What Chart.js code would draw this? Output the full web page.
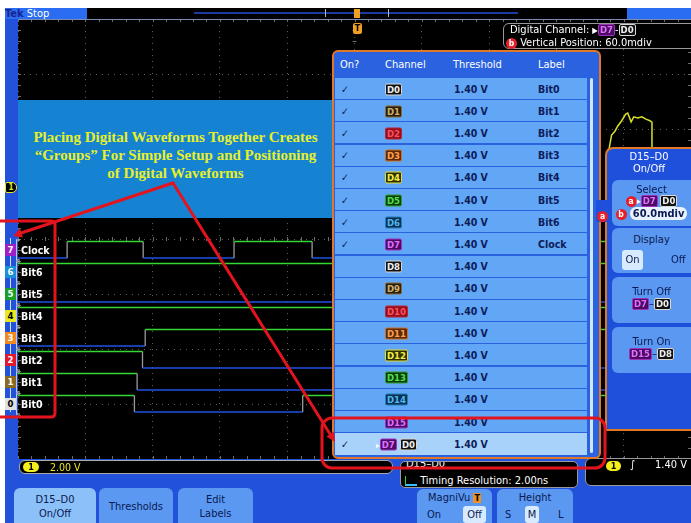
<!DOCTYPE html>
<html>
<head>
<meta charset="utf-8">
<script src="https://cdn.jsdelivr.net/npm/chart.js@4.4.1/dist/chart.umd.min.js"></script>
<style>
html, body { margin: 0; padding: 0; }
body { width: 691px; height: 523px; position: relative; overflow: hidden; background: #fff;
       font-family: 'DejaVu Sans Condensed', 'DejaVu Sans', sans-serif; }
.abs { position: absolute; }
#frame { left: 5px; top: 8px; width: 686px; height: 515px; background: #2152d9; }
#scope { left: 18px; top: 19px; width: 673px; height: 440px; background: #000; }
.badge { display: inline-block; font-size: 9.5px; font-weight: bold; line-height: 10px; padding: 0 1px;
         border: 1px solid; border-radius: 2px; vertical-align: middle; }
.rc { display: inline-block; width: 11px; height: 11px; border-radius: 50%; background: #e4202a; color: #fff;
      font-size: 8.5px; font-weight: bold; line-height: 11px; text-align: center; vertical-align: middle; }
.row { position: absolute; left: 335px; width: 252px; height: 21px; background: #62a6f6; color: #0c1c58;
       font-size: 10.5px; font-weight: bold; }
.row > span { position: absolute; top: 50%; transform: translateY(-50%); white-space: nowrap; }
.btn { position: absolute; background: #5a98f2; color: #0a1a50; font-size: 11px; text-align: center;
       border-radius: 6px; }
.pill { position: absolute; height: 10px; border-radius: 5px; background: #f2ee1a; color: #000;
        font-size: 9px; font-weight: bold; line-height: 10px; text-align: center; }
.lab { position: absolute; left: 21px; color: #fff; font-size: 10.5px; font-weight: bold; transform: translateY(-50%); }
.mk { position: absolute; left: 5px; width: 11px; height: 12px; font-size: 9.5px; font-weight: bold;
      line-height: 12px; text-align: center; transform: translateY(-50%); }
.brk { position: absolute; left: 16px; width: 3px; height: 19px; border: 1px solid #c8c8c8; border-right: none;
       transform: translateY(-50%); }
</style>
</head>
<body>
<div id="frame" class="abs"></div>

<!-- top status bar -->
<div class="abs" style="left:5px;top:8px;width:82px;height:11px;background:#2a6cf2;font-size:11px;line-height:11px;">
  <span style="color:#1a2290;font-weight:bold;">Tek</span><span style="color:#fff;"> Stop</span>
</div>
<div class="abs" style="left:87px;top:8px;width:540px;height:11px;background:#000;"></div>
<div class="abs" style="left:627px;top:8px;width:64px;height:11px;background:#2a6cf2;"></div>
<div class="abs" style="left:194px;top:12px;width:324px;height:2px;background:#1c3aa0;"></div>
<div class="abs" style="left:325px;top:9px;width:62px;height:8px;border-left:1px solid #bbb;border-right:1px solid #bbb;"></div>
<div class="abs" style="left:354px;top:9px;width:6px;height:9px;background:#f0a020;"></div>

<div id="scope" class="abs"><canvas id="wave"></canvas></div>
<div class="abs" style="left:18px;top:19px;width:673px;height:1px;background:#7c8cb0;"></div>

<!-- trigger marker -->
<div class="abs" style="left:353px;top:23px;width:9px;height:11px;background:#f0a020;border-radius:2px;color:#000;font-size:9px;font-weight:bold;line-height:11px;text-align:center;">T</div>

<!-- channel 1 ground marker -->
<div class="abs" style="left:5px;top:182px;width:10px;height:9px;background:#000;border:1px solid #e8e820;border-radius:2px 5px 5px 2px;color:#e8e820;font-size:8px;font-weight:bold;line-height:9px;text-align:center;">1</div>

<!-- readout top right -->
<div class="abs" style="left:503px;top:23px;width:192px;height:24px;background:#000;border:1px solid #999;border-radius:6px;color:#fff;font-size:11px;line-height:12px;">
  <div style="padding-left:6px;">Digital Channel: <span style="font-size:8px;">&#9654;</span><span id="hdrA"></span>-<span id="hdrB"></span></div>
  <div style="padding-left:2px;"><span class="rc">b</span> Vertical Position: 60.0mdiv</div>
</div>

<!-- annotation box -->
<div class="abs" style="left:18px;top:100px;width:315px;height:118px;background:#1583d2;"></div>
<div class="abs" style="left:18px;top:128px;width:315px;text-align:center;color:#e6f02a;font-family:'Liberation Serif',serif;font-weight:bold;font-size:15px;line-height:18px;">
  Placing Digital Waveforms Together Creates<br>&ldquo;Groups&rdquo; For Simple Setup and Positioning<br>of Digital Waveforms
</div>

<!-- channel labels / markers (filled by script) -->
<div id="lanes"></div>

<!-- status row -->
<div class="abs" style="left:19px;top:460px;width:372px;height:12px;background:#000;border:1px solid #aaa;border-radius:6px;"></div>
<div class="pill" style="left:23px;top:462px;width:16px;">1</div>
<div class="abs" style="left:50px;top:460px;color:#e8e820;font-size:10.5px;line-height:14px;">2.00 V</div>

<div class="abs" style="left:400px;top:461px;width:176px;height:25px;background:#000;border:1px solid #999;border-radius:5px;overflow:hidden;color:#fff;">
  <div style="position:absolute;left:5px;top:-5px;font-size:11px;">D15&ndash;D0</div>
  <div style="position:absolute;left:4px;top:13px;font-size:11px;line-height:12px;white-space:nowrap;">
    <span style="display:inline-block;width:11px;height:8px;border-bottom:2px solid #30c0ff;border-left:1px solid #30d030;vertical-align:middle;"></span>
    Timing Resolution: 2.00ns</div>
</div>

<div class="abs" style="left:585px;top:458px;width:110px;height:26px;background:#000;border:1px solid #999;border-radius:6px;"></div>
<div class="pill" style="left:606px;top:461px;width:15px;">1</div>
<div class="abs" style="left:630px;top:458px;color:#fff;font-size:11px;line-height:14px;font-style:italic;">&#8747;</div>
<div class="abs" style="left:655px;top:458px;color:#fff;font-size:11px;line-height:14px;">1.40 V</div>

<!-- channel table -->
<div id="tbl" class="abs" style="left:332px;top:50px;width:265px;height:405px;background:#2a62e0;border:2px solid #e07828;border-radius:6px;"></div>
<div class="abs" style="left:340px;top:58px;color:#fff;font-size:11px;">On?</div>
<div class="abs" style="left:385px;top:58px;color:#fff;font-size:11px;">Channel</div>
<div class="abs" style="left:453px;top:58px;color:#fff;font-size:11px;">Threshold</div>
<div class="abs" style="left:538px;top:58px;color:#fff;font-size:11px;">Label</div>
<div id="rows"></div>
<div class="abs" style="left:590px;top:78px;width:3px;height:375px;background:#cfe6ff;border-radius:2px;"></div>

<!-- side menu -->
<div class="abs" style="left:605px;top:147px;width:86px;height:280px;background:#1f50dc;border:2px solid #e07828;border-right:none;border-radius:8px 0 0 0;"></div>
<div class="abs" style="left:607px;top:151px;width:84px;text-align:center;color:#fff;font-size:11px;line-height:12px;">D15&ndash;D0<br>On/Off</div>
<div class="abs" style="left:596px;top:200px;width:14px;height:22px;background:#1f50dc;"></div>
<div class="abs" style="left:597px;top:206px;"><span class="rc">a</span></div>
<div class="btn" style="left:612px;top:180px;width:79px;height:46px;border-radius:6px 0 0 6px;line-height:11px;">
  <div style="margin-top:4px;">Select</div>
  <div style="font-size:9px;"><span class="rc">a</span><span style="color:#fff;">&#9656;</span><span id="selA"></span> <span id="selB"></span></div>
  <div style="margin-top:1px;"><span class="rc">b</span> <span style="background:#e8f2ff;border-radius:6px;padding:0 3px;font-weight:bold;">60.0mdiv</span></div>
</div>
<div class="btn" style="left:612px;top:228px;width:79px;height:45px;border-radius:6px 0 0 6px;">
  <div style="margin-top:5px;">Display</div>
  <div style="position:absolute;left:10px;top:22px;width:21px;height:20px;background:#d8eaff;border-radius:3px;line-height:20px;">On</div>
  <div style="position:absolute;left:59px;top:22px;line-height:20px;">Off</div>
</div>
<div class="btn" style="left:612px;top:277px;width:79px;height:46px;border-radius:6px 0 0 6px;line-height:12px;">
  <div style="margin-top:9px;">Turn Off</div>
  <div><span id="offA"></span>&ndash;<span id="offB"></span></div>
</div>
<div class="btn" style="left:612px;top:327px;width:79px;height:46px;border-radius:6px 0 0 6px;line-height:12px;">
  <div style="margin-top:9px;">Turn On</div>
  <div><span id="onA"></span>&ndash;<span id="onB"></span></div>
</div>

<!-- softkeys -->
<div class="btn" style="left:14px;top:488px;width:82px;height:45px;background:#8cc0f8;line-height:14px;"><div style="margin-top:5px;">D15&ndash;D0<br>On/Off</div></div>
<div class="btn" style="left:99px;top:488px;width:74px;height:45px;line-height:14px;"><div style="margin-top:12px;">Thresholds</div></div>
<div class="btn" style="left:178px;top:488px;width:75px;height:45px;line-height:14px;"><div style="margin-top:5px;">Edit<br>Labels</div></div>
<div class="btn" style="left:417px;top:489px;width:75px;height:45px;line-height:14px;">
  <div style="margin-top:2px;">MagniVu <span style="background:#f09020;color:#000;font-size:9px;font-weight:bold;padding:0 1px;">T</span></div>
  <div style="position:absolute;left:10px;top:19px;">On</div>
  <div style="position:absolute;left:46px;top:17px;width:23px;height:17px;background:#d8eaff;border-radius:3px;line-height:17px;">Off</div>
</div>
<div class="btn" style="left:497px;top:489px;width:76px;height:45px;line-height:14px;">
  <div style="margin-top:2px;">Height</div>
  <div style="position:absolute;left:8px;top:19px;">S</div>
  <div style="position:absolute;left:28px;top:17px;width:14px;height:17px;background:#d8eaff;border-radius:3px;line-height:17px;">M</div>
  <div style="position:absolute;left:61px;top:19px;">L</div>
</div>

<!-- red call-outs -->
<svg class="abs" style="left:0;top:0;" width="691" height="523">
  <g stroke="#e4141e" stroke-width="3" fill="none" stroke-linejoin="round" stroke-linecap="round">
    <path d="M-5 221 H51 Q55 221 55 225 V413 Q55 417 51 417 H-5"/>
    <line x1="173" y1="183" x2="21" y2="233"/>
    <line x1="173" y1="183" x2="330" y2="434"/>
    <rect x="322" y="418" width="283" height="50" rx="10"/>
  </g>
  <g fill="#e4141e">
    <polygon points="13,236 23,237.5 20,228.5"/>
    <polygon points="335,442 326.5,436.5 334,431.5"/>
  </g>
</svg>

<script>
// lane names, bottom lane first
const channelLabels = ['Bit0', 'Bit1', 'Bit2', 'Bit3', 'Bit4', 'Bit5', 'Bit6', 'Clock'];

// [time in divisions, logic level]
const bit0 = [[0, 1], [1.73, 0], [4.23, 1], [10, 1]];
const bit1 = [[0, 1], [1.77, 0], [10, 0]];
const bit2 = [[0, 1], [1.85, 0], [10, 0]];
const bit3 = [[0, 0], [1.89, 1], [10, 1]];
const bit4 = [[0, 1], [10, 1]];
const bit5 = [[0, 0], [10, 0]];
const bit6 = [[0, 1], [10, 1]];
const clock = [[0, 0], [0.73, 1], [1.86, 0], [3.21, 1], [4.37, 0], [5.69, 1], [6.85, 0], [8.17, 1], [9.33, 0], [10, 0]];
const laneEdges = [bit0, bit1, bit2, bit3, bit4, bit5, bit6, clock];

// analog channel 1, only the part that shows
const ch1Time  = [8.78, 8.82, 8.87, 8.91, 8.97, 9.03, 9.06, 9.11, 9.15, 9.21, 9.27, 9.33, 9.39, 9.42, 9.42];
const ch1Level = [5.62, 5.89, 5.96, 6.05, 6.15, 6.27, 6.29, 6.13, 6.22, 6.20, 6.22, 6.18, 6.15, 6.12, 5.40];

// channel table
const tableChannels = ['D0','D1','D2','D3','D4','D5','D6','D7','D8','D9','D10','D11','D12','D13','D14','D15'];
const tableOn = [1, 1, 1, 1, 1, 1, 1, 1, 0, 0, 0, 0, 0, 0, 0, 0];
const tableThresholds = ['1.40 V','1.40 V','1.40 V','1.40 V','1.40 V','1.40 V','1.40 V','1.40 V',
                         '1.40 V','1.40 V','1.40 V','1.40 V','1.40 V','1.40 V','1.40 V','1.40 V'];
const tableLabels = ['Bit0','Bit1','Bit2','Bit3','Bit4','Bit5','Bit6','Clock','','','','','','','',''];

// lane geometry in divisions
const laneBottom = 0.855, laneStep = 0.4, highOffset = 0.3;

// badge colours: bg, text, border (by channel mod 8)
const badgeColors = [
    ['#111111', '#f0f0f0', '#d8d8d8'],
    ['#2a1e0c', '#d0b070', '#8a6a30'],
    ['#90101c', '#ff5060', '#c02030'],
    ['#5a2a0a', '#ffa050', '#d07020'],
    ['#303008', '#f4f040', '#e0e030'],
    ['#0c3c0c', '#50e050', '#30a030'],
    ['#0c3050', '#50b8f0', '#2080c0'],
    ['#4a0c60', '#e070ff', '#a030c0']
];
const markerColors = ['#e0e0e0', '#8a6a20', '#e01830', '#f08a20', '#e8e820', '#18a028', '#1890d8', '#a020c8'];

function badge(name) {
    const n = parseInt(name.slice(1)) % 8;
    const c = badgeColors[n];
    return `<span class="badge" style="background:${c[0]};color:${c[1]};border-color:${c[2]};">${name}</span>`;
}

// header / menu badges
document.getElementById('hdrA').innerHTML = badge('D7');
document.getElementById('hdrB').innerHTML = badge('D0');
document.getElementById('selA').innerHTML = badge('D7');
document.getElementById('selB').innerHTML = badge('D0');
document.getElementById('offA').innerHTML = badge('D7');
document.getElementById('offB').innerHTML = badge('D0');
document.getElementById('onA').innerHTML = badge('D15');
document.getElementById('onB').innerHTML = badge('D8');

// table rows
const rowsDiv = document.getElementById('rows');
let html = '';
tableChannels.forEach((ch, i) => {
    const top = 78 + i * 22.2;
    html += `<div class="row" style="top:${top}px;">` +
        (tableOn[i] ? '<span style="left:6px;font-weight:normal;">&#10003;</span>' : '') +
        `<span style="left:50px;">${badge(ch)}</span>` +
        `<span style="left:119px;">${tableThresholds[i]}</span>` +
        `<span style="left:203px;">${tableLabels[i]}</span></div>`;
});
// group row (selected)
html += `<div class="row" style="top:433px;height:22px;background:#a8d2fa;">` +
    '<span style="left:6px;font-weight:normal;">&#10003;</span>' +
    `<span style="left:41px;"><span style="font-size:8px;color:#fff;">&#9656;</span>${badge('D7')} ${badge('D0')}</span>` +
    `<span style="left:119px;">1.40 V</span></div>`;
rowsDiv.innerHTML = html;

// build waveform points: flat run then vertical edge
function lanePoints(edges, lane) {
    const base = laneBottom + lane * laneStep;
    const pts = [];
    for (let i = 0; i < edges.length; i++) {
        const [t, lv] = edges[i];
        if (i > 0 && edges[i - 1][1] !== lv) {
            pts.push({ x: t, y: base + edges[i - 1][1] * highOffset, lv: edges[i - 1][1] });
        }
        pts.push({ x: t, y: base + lv * highOffset, lv: lv });
    }
    return pts;
}

const datasets = laneEdges.map((edges, lane) => {
    const pts = lanePoints(edges, lane);
    return {
        label: channelLabels[lane],
        data: pts,
        borderWidth: 1.3,
        pointRadius: 0,
        borderColor: '#34d834',
        segment: {
            borderColor: ctx => {
                if (Math.abs(ctx.p0.x - ctx.p1.x) < 0.5) return '#9a9a9a';
                return pts[ctx.p0DataIndex].lv ? '#34d834' : '#1f50e6';
            }
        }
    };
});

datasets.push({
    label: 'Ch1',
    data: ch1Time.map((t, i) => ({ x: t, y: ch1Level[i] })),
    borderColor: '#d8e028',
    borderWidth: 1.5,
    pointRadius: 0
});

// graticule ticks on the centre lines and edges
const gratTicks = {
    id: 'gratTicks',
    beforeDatasetsDraw(chart) {
        const { ctx, chartArea: a, scales: { x, y } } = chart;
        const cx = x.getPixelForValue(5), cy = y.getPixelForValue(4);
        ctx.save();
        ctx.strokeStyle = '#6c6c6c';
        ctx.lineWidth = 1;
        ctx.beginPath();
        for (let k = 0; k <= 50; k++) {
            const px = Math.round(x.getPixelForValue(k / 5)) + 0.5;
            ctx.moveTo(px, cy - 2); ctx.lineTo(px, cy + 2);
            ctx.moveTo(px, a.top); ctx.lineTo(px, a.top + 3);
            ctx.moveTo(px, a.bottom - 3); ctx.lineTo(px, a.bottom);
        }
        for (let k = 0; k <= 40; k++) {
            const py = Math.round(y.getPixelForValue(k / 5)) + 0.5;
            ctx.moveTo(cx - 2, py); ctx.lineTo(cx + 2, py);
            ctx.moveTo(a.left, py); ctx.lineTo(a.left + 3, py);
            ctx.moveTo(a.right - 3, py); ctx.lineTo(a.right, py);
        }
        ctx.stroke();
        ctx.restore();
    }
};

const chart = new Chart(document.getElementById('wave'), {
    type: 'line',
    data: { datasets: datasets },
    options: {
        responsive: true,
        maintainAspectRatio: false,
        animation: false,
        events: [],
        layout: { padding: 0 },
        plugins: { legend: { display: false }, tooltip: { enabled: false } },
        scales: {
            x: {
                type: 'linear', min: 0, max: 10,
                ticks: { display: false, stepSize: 1 },
                grid: { color: '#5e5e5e', drawTicks: false },
                border: { display: false, dash: [1, 5] }
            },
            y: {
                type: 'linear', min: 0, max: 8,
                ticks: { display: false, stepSize: 1 },
                grid: { color: '#5e5e5e', drawTicks: false },
                border: { display: false, dash: [1, 5] }
            }
        }
    },
    plugins: [gratTicks]
});

// lane labels and markers placed from the y scale
const lanesDiv = document.getElementById('lanes');
const ys = chart.scales.y;
let lh = '<div class="abs" style="left:10px;top:238px;width:1px;height:174px;background:#cfe0ff;"></div>';
channelLabels.forEach((name, lane) => {
    const mid = 19 + ys.getPixelForValue(laneBottom + lane * laneStep + highOffset / 2);
    const num = lane;
    const dark = (num === 0 || num === 4);
    lh += `<div class="mk" style="top:${mid}px;background:${markerColors[num]};color:${dark ? '#000' : '#fff'};">${num}</div>`;
    lh += `<div class="brk" style="top:${mid}px;"></div>`;
    lh += `<div class="lab" style="top:${mid}px;">${name}</div>`;
});
lanesDiv.innerHTML = lh;
</script>
</body>
</html>
